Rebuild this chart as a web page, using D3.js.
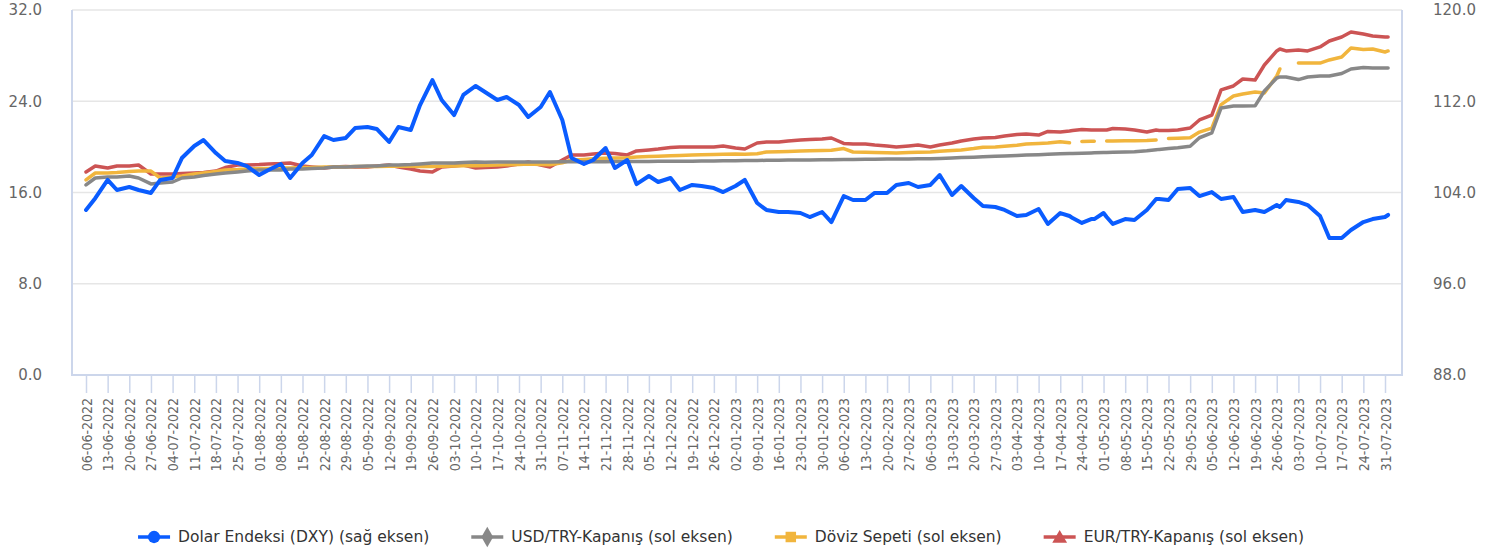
<!DOCTYPE html>
<html>
<head>
<meta charset="utf-8">
<script src="https://cdn.jsdelivr.net/npm/d3@7"></script>
<style>
  html, body { margin: 0; padding: 0; background: #fff; }
  svg { display: block; font-family: "DejaVu Sans", sans-serif; }
</style>
</head>
<body>
<div id="area"></div>
<script>
// twice a week (Mon / Thu) plus a few holiday dates where the basket has gaps
const dates = [
  "2022-06-06","2022-06-09","2022-06-13","2022-06-16","2022-06-20","2022-06-23","2022-06-27","2022-06-30",
  "2022-07-04","2022-07-07","2022-07-11","2022-07-14","2022-07-18","2022-07-21","2022-07-25","2022-07-28",
  "2022-08-01","2022-08-04","2022-08-08","2022-08-11","2022-08-15","2022-08-18","2022-08-22","2022-08-25",
  "2022-08-29","2022-09-01","2022-09-05","2022-09-08","2022-09-12","2022-09-15","2022-09-19","2022-09-22",
  "2022-09-26","2022-09-29","2022-10-03","2022-10-06","2022-10-10","2022-10-13","2022-10-17","2022-10-20",
  "2022-10-24","2022-10-27","2022-10-31","2022-11-03","2022-11-07","2022-11-10","2022-11-14","2022-11-17",
  "2022-11-21","2022-11-24","2022-11-28","2022-12-01","2022-12-05","2022-12-08","2022-12-12","2022-12-15",
  "2022-12-19","2022-12-22","2022-12-26","2022-12-29","2023-01-02","2023-01-05","2023-01-09","2023-01-12",
  "2023-01-16","2023-01-19","2023-01-23","2023-01-26","2023-01-30","2023-02-02","2023-02-06","2023-02-09",
  "2023-02-13","2023-02-16","2023-02-20","2023-02-23","2023-02-27","2023-03-02","2023-03-06","2023-03-09",
  "2023-03-13","2023-03-16","2023-03-20","2023-03-23","2023-03-27","2023-03-30","2023-04-03","2023-04-06",
  "2023-04-10","2023-04-13","2023-04-17","2023-04-20","2023-04-21","2023-04-24","2023-04-27","2023-04-28",
  "2023-05-01","2023-05-02","2023-05-04","2023-05-08","2023-05-11","2023-05-15","2023-05-18","2023-05-19",
  "2023-05-22","2023-05-25","2023-05-29","2023-06-01","2023-06-05","2023-06-08","2023-06-12","2023-06-15",
  "2023-06-19","2023-06-22","2023-06-26","2023-06-27","2023-06-29","2023-07-03","2023-07-06","2023-07-10",
  "2023-07-13","2023-07-17","2023-07-20","2023-07-24","2023-07-27","2023-07-31","2023-08-01"
];

const dxy = [
  102.47,103.50,105.10,104.22,104.48,104.22,103.96,105.10,
  105.27,107.02,108.08,108.60,107.46,106.76,106.59,106.32,
  105.53,105.97,106.50,105.27,106.59,107.29,108.95,108.60,
  108.78,109.65,109.74,109.57,108.43,109.74,109.48,111.67,
  113.86,112.11,110.79,112.55,113.34,112.81,112.11,112.37,
  111.67,110.62,111.50,112.81,110.36,107.02,106.50,106.85,
  107.90,106.15,106.85,104.74,105.45,104.92,105.27,104.22,
  104.66,104.57,104.39,104.04,104.57,105.10,103.08,102.47,
  102.29,102.29,102.20,101.85,102.29,101.41,103.69,103.34,
  103.34,103.96,103.96,104.66,104.83,104.48,104.66,105.53,
  103.78,104.57,103.52,102.82,102.73,102.47,101.94,102.03,
  102.55,101.24,102.20,101.94,101.76,101.33,101.67,101.67,
  102.20,101.85,101.24,101.67,101.59,102.47,103.43,103.43,
  103.34,104.31,104.39,103.69,104.04,103.43,103.61,102.29,
  102.47,102.29,102.90,102.73,103.34,103.17,102.90,101.94,
  100.01,100.01,100.71,101.41,101.67,101.85,102.03
];

const usdTry = [
  16.66,17.27,17.36,17.36,17.45,17.27,16.75,16.83,
  16.92,17.27,17.36,17.49,17.62,17.71,17.80,17.88,
  17.97,17.97,17.97,18.06,18.06,18.10,18.15,18.24,
  18.24,18.28,18.32,18.32,18.41,18.41,18.45,18.50,
  18.59,18.59,18.59,18.63,18.67,18.66,18.67,18.67,
  18.67,18.68,18.68,18.68,18.69,18.69,18.70,18.70,
  18.70,18.71,18.71,18.72,18.72,18.73,18.74,18.74,
  18.75,18.76,18.77,18.78,18.79,18.80,18.81,18.82,
  18.83,18.84,18.85,18.86,18.87,18.88,18.89,18.90,
  18.91,18.92,18.93,18.93,18.94,18.95,18.96,18.98,
  19.02,19.06,19.10,19.13,19.17,19.20,19.24,19.28,
  19.32,19.35,19.39,19.42,19.43,19.45,19.47,19.48,
  19.50,19.51,19.52,19.55,19.58,19.66,19.75,19.78,
  19.85,19.92,20.05,20.80,21.22,23.41,23.58,23.58,
  23.60,24.90,26.04,26.13,26.13,25.90,26.13,26.22,
  26.22,26.43,26.83,26.96,26.92,26.92,26.92
];

const basket = [
  17.10,17.71,17.71,17.75,17.84,17.88,17.88,17.27,
  17.36,17.45,17.62,17.71,17.84,17.97,18.01,18.06,
  18.10,18.10,18.15,18.15,18.19,18.19,18.24,18.24,
  18.26,18.27,18.28,18.29,18.30,18.31,18.30,18.28,
  18.27,18.30,18.33,18.34,18.35,18.36,18.40,18.43,
  18.45,18.50,18.45,18.43,18.60,18.85,18.90,18.95,
  19.00,19.03,19.05,19.11,19.15,19.18,19.22,19.25,
  19.29,19.30,19.33,19.35,19.38,19.36,19.40,19.55,
  19.58,19.60,19.63,19.66,19.68,19.70,19.85,19.55,
  19.52,19.50,19.48,19.46,19.50,19.52,19.55,19.62,
  19.68,19.72,19.85,19.97,19.99,20.05,20.15,20.25,
  20.30,20.34,20.45,20.36,null,20.48,20.50,20.50,
  null,20.52,20.52,20.54,20.54,20.56,20.60,null,
  20.74,20.76,20.80,21.30,21.65,23.70,24.46,24.64,
  24.81,24.72,26.21,26.83,null,27.35,27.35,27.35,
  27.62,27.88,28.67,28.54,28.58,28.32,28.41
];

const eurTry = [
  17.80,18.32,18.15,18.32,18.32,18.41,17.62,17.62,
  17.62,17.67,17.71,17.75,17.88,18.19,18.41,18.41,
  18.45,18.50,18.54,18.59,18.32,18.24,18.15,18.24,
  18.28,18.24,18.24,18.32,18.41,18.24,18.06,17.88,
  17.80,18.24,18.32,18.41,18.15,18.19,18.24,18.32,
  18.50,18.67,18.41,18.24,18.85,19.29,19.29,19.38,
  19.46,19.42,19.29,19.64,19.73,19.81,19.95,19.99,
  19.99,19.99,19.99,20.08,19.90,19.81,20.34,20.43,
  20.43,20.52,20.60,20.65,20.69,20.78,20.30,20.25,
  20.25,20.16,20.08,19.99,20.08,20.16,19.99,20.16,
  20.34,20.52,20.69,20.78,20.82,20.95,21.09,21.13,
  21.04,21.35,21.30,21.39,21.43,21.52,21.48,21.48,
  21.48,21.48,21.61,21.57,21.48,21.30,21.48,21.44,
  21.44,21.48,21.65,22.36,22.79,24.99,25.34,25.95,
  25.86,27.18,28.41,28.58,28.41,28.49,28.41,28.76,
  29.28,29.63,30.07,29.90,29.72,29.63,29.63
];

const leftTicks = [0, 8, 16, 24, 32];
const rightTicks = [88, 96, 104, 112, 120];
const seriesNames = [
  "Dolar Endeksi (DXY) (sağ eksen)",
  "USD/TRY-Kapanış (sol eksen)",
  "Döviz Sepeti (sol eksen)",
  "EUR/TRY-Kapanış (sol eksen)"
];

var margin = { top: 10, right: 93, bottom: 175, left: 72 },
  width = 1495 - margin.left - margin.right,
  height = 550 - margin.top - margin.bottom;

var parseDate = d3.utcParse("%Y-%m-%d");
var days = dates.map(parseDate);
var mondays = days.filter(function (d) { return d.getUTCDay() === 1; });

var root = d3.select("#area")
  .append("svg")
  .attr("width", width + margin.left + margin.right)
  .attr("height", height + margin.top + margin.bottom);

var svG = root.append("g")
  .attr("transform", "translate(" + margin.left + "," + margin.top + ")");

var xScale = d3.scaleUtc()
  .domain([mondays[0], mondays[mondays.length - 1]])
  .range([14, width - 17]);

var yLeft = d3.scaleLinear().domain([0, 32]).range([height, 0]);
var yRight = d3.scaleLinear().domain([88, 120]).range([height, 0]);

// grid
svG.append("g")
  .selectAll("line")
  .data(leftTicks.slice(1))
  .enter()
  .append("line")
  .attr("x1", 0)
  .attr("x2", width)
  .attr("y1", function (d) { return yLeft(d); })
  .attr("y2", function (d) { return yLeft(d); })
  .style("stroke", "#e6e6e6")
  .style("stroke-width", 1.5);

// x axis
var xAxis = svG.append("g")
  .attr("transform", "translate(0," + height + ")")
  .call(d3.axisBottom(xScale)
    .tickValues(mondays)
    .tickFormat(d3.utcFormat("%d-%m-%Y"))
    .tickSize(18)
    .tickSizeOuter(0));
xAxis.select(".domain").remove();
xAxis.selectAll(".tick line").style("stroke", "#ccd6eb").style("stroke-width", 1.5);
xAxis.selectAll(".tick text")
  .attr("transform", "rotate(-90)")
  .attr("text-anchor", "end")
  .attr("x", -23)
  .attr("y", 0)
  .attr("dy", "0.36em")
  .style("font-family", "'DejaVu Sans Condensed', 'DejaVu Sans', sans-serif")
  .style("font-size", "14px")
  .style("fill", "#666");

// y axes
var leftAxis = svG.append("g")
  .call(d3.axisLeft(yLeft).tickValues(leftTicks).tickFormat(d3.format(".1f")).tickSize(0).tickPadding(30));
var rightAxis = svG.append("g")
  .attr("transform", "translate(" + width + ",0)")
  .call(d3.axisRight(yRight).tickValues(rightTicks).tickFormat(d3.format(".1f")).tickSize(0).tickPadding(31));
[leftAxis, rightAxis].forEach(function (a) {
  a.select(".domain").remove();
  a.selectAll("text").style("font-size", "15px").style("fill", "#666").style("font-family", "'DejaVu Sans', sans-serif");
});

// axis lines
svG.append("path")
  .attr("d", "M0,0V" + height + "H" + width + "V0")
  .style("fill", "none")
  .style("stroke", "#ccd6eb")
  .style("stroke-width", 2);

// series
var series = [
  { name: seriesNames[3], values: eurTry, y: yLeft, color: "#cc5454", symbol: d3.symbolTriangle, size: 95, w: 3.5 },
  { name: seriesNames[2], values: basket, y: yLeft, color: "#f1b53d", symbol: d3.symbolSquare, size: 110, w: 3.5 },
  { name: seriesNames[1], values: usdTry, y: yLeft, color: "#888888", symbol: d3.symbolDiamond, size: 120, w: 3.5 },
  { name: seriesNames[0], values: dxy, y: yRight, color: "#0a5cff", symbol: d3.symbolCircle, size: 120, w: 4 }
];

series.forEach(function (s) {
  var pts = s.values.map(function (v, i) { return { date: days[i], v: v }; });
  var line = d3.line()
    .defined(function (d) { return d.v != null; })
    .x(function (d) { return xScale(d.date); })
    .y(function (d) { return s.y(d.v); });
  svG.append("path")
    .datum(pts)
    .attr("d", line)
    .style("fill", "none")
    .style("stroke", s.color)
    .style("stroke-width", s.w)
    .style("stroke-linejoin", "round")
    .style("stroke-linecap", "round");
});

// legend
var legend = root.append("g").attr("transform", "translate(0,537)");
var itemDistance = 42, cursor = 0;
series.slice().reverse().forEach(function (s) {
  var item = legend.append("g");
  item.append("line")
    .attr("x1", 0).attr("x2", 32).attr("y1", 0).attr("y2", 0)
    .style("stroke", s.color).style("stroke-width", 3.5);
  item.append("path")
    .attr("d", d3.symbol().type(s.symbol).size(s.size)())
    .attr("transform", "translate(16," + (s.symbol === d3.symbolTriangle ? 1.5 : 0) + ")")
    .style("fill", s.color);
  var t = item.append("text")
    .attr("x", 40).attr("y", 0).attr("dy", "0.35em")
    .style("font-size", "15.5px").style("fill", "#333")
    .text(s.name);
  item.attr("transform", "translate(" + cursor + ",0)");
  cursor += 40 + t.node().getComputedTextLength() + itemDistance;
});
var total = cursor - itemDistance;
legend.attr("transform", "translate(" + (721 - total / 2) + ",537)");
</script>
</body>
</html>
